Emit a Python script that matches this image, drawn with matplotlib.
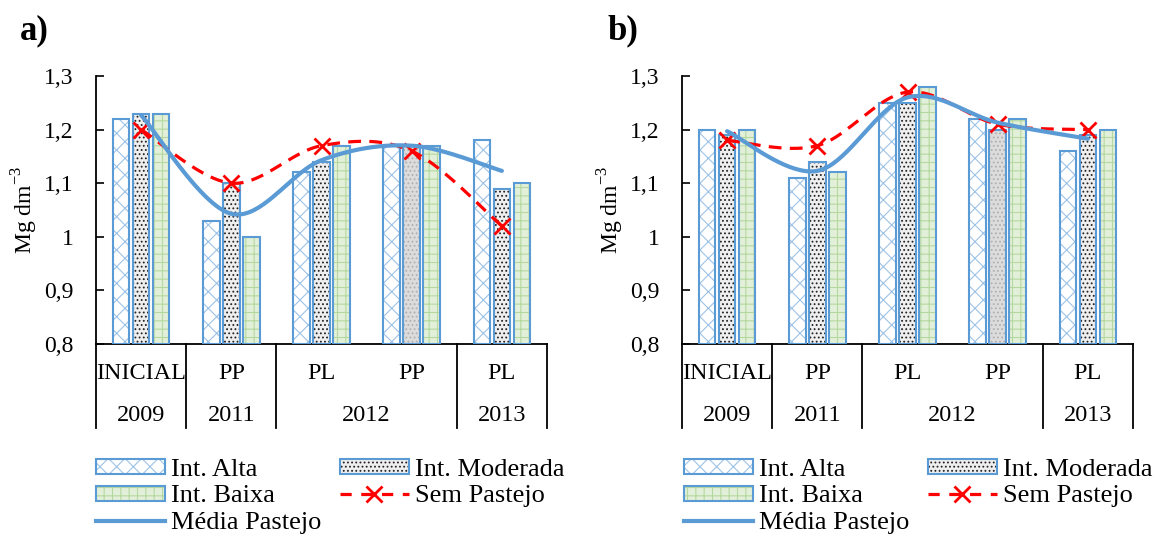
import numpy as np
import matplotlib
matplotlib.use("Agg")
import matplotlib.pyplot as plt
from matplotlib.patches import Patch
from matplotlib.lines import Line2D
from matplotlib.ticker import FuncFormatter, MultipleLocator

plt.rcParams['font.family'] = ['Liberation Serif', 'DejaVu Serif']
plt.rcParams['mathtext.fontset'] = 'custom'
plt.rcParams['mathtext.rm'] = 'Liberation Serif'
plt.rcParams['hatch.linewidth'] = 0.8

# categorias do eixo x (dois niveis)
manejo = ['INICIAL', 'PP', 'PL', 'PP', 'PL']
anos = ['2009', '2011', '2012', '2013']
ano_pos = [0, 1, 2.5, 4]
limites = [-0.5, 0.5, 1.5, 3.5, 4.5]

# painel a)
alta_a = [1.22, 1.03, 1.12, 1.17, 1.18]
moderada_a = [1.23, 1.10, 1.14, 1.17, 1.09]
baixa_a = [1.23, 1.00, 1.17, 1.17, 1.10]
sem_pastejo_a = [1.20, 1.10, 1.17, 1.16, 1.02]
media_a = [1.227, 1.043, 1.143, 1.170, 1.123]

# painel b)
alta_b = [1.20, 1.11, 1.25, 1.22, 1.16]
moderada_b = [1.19, 1.14, 1.25, 1.20, 1.19]
baixa_b = [1.20, 1.12, 1.28, 1.22, 1.20]
sem_pastejo_b = [1.18, 1.17, 1.27, 1.21, 1.20]
media_b = [1.197, 1.123, 1.260, 1.213, 1.183]

AZUL = '#5B9BD5'
FS_TICK = 17
FS_CAT = 17.5
FS_LEG = 19

# estilos das barras: (face, hatch, cor do hatch)
estilos = {
    'Int. Alta': ('white', 'xx', '#9DC3E6'),
    'Int. Moderada': ('#EFEFEF', '....', '#222222'),
    'Int. Baixa': ('#E2F0D9', '++', '#B5D8A0'),
}


def suavizar(x, y, n=40):
    """Linha suavizada tipo Excel (Bezier com tangentes de Catmull-Rom)."""
    p = np.column_stack([x, y]).astype(float)
    p = np.vstack([p[0], p, p[-1]])
    pts = []
    t = np.linspace(0, 1, n)[:, None]
    for i in range(1, len(p) - 2):
        p0, p1, p2, p3 = p[i - 1], p[i], p[i + 1], p[i + 2]
        b1 = p1 + (p2 - p0) / 6
        b2 = p2 - (p3 - p1) / 6
        seg = ((1 - t) ** 3) * p1 + 3 * ((1 - t) ** 2) * t * b1 \
            + 3 * (1 - t) * t ** 2 * b2 + t ** 3 * p2
        pts.append(seg if i == 1 else seg[1:])
    pts = np.vstack(pts)
    return pts[:, 0], pts[:, 1]


def painel(ax, alta, moderada, baixa, sem, media):
    x = np.arange(len(manejo))
    largura = 0.185
    desloc = [-0.222, 0, 0.222]
    for vals, nome, d in zip([alta, moderada, baixa], estilos, desloc):
        face, hatch, hcor = estilos[nome]
        bars = ax.bar(x + d, np.array(vals) - 0.8, largura, bottom=0.8,
                      color=face, hatch=hatch, edgecolor=hcor, linewidth=0, zorder=2)
        if nome == 'Int. Moderada':
            # barra com padrao mais claro no Excel
            bars[3].set_facecolor('#DCDCDC')
            bars[3].set_edgecolor('#B0B0B0')
        ax.bar(x + d, np.array(vals) - 0.8, largura, bottom=0.8,
               facecolor='none', edgecolor=AZUL, linewidth=1.5, zorder=3)

    sx, sy = suavizar(x, sem)
    ax.plot(sx, sy, color='red', lw=2.3, dashes=(4, 2.6), zorder=4)
    ax.plot(x, sem, ls='none', marker='x', ms=12, mew=2, color='red', zorder=5)
    mx, my = suavizar(x, media)
    ax.plot(mx, my, color=AZUL, lw=3, solid_capstyle='round', zorder=6)

    ax.set_xlim(-0.5, 4.5)
    ax.set_ylim(0.8, 1.3)
    ax.yaxis.set_major_locator(MultipleLocator(0.1))
    ax.yaxis.set_major_formatter(FuncFormatter(
        lambda v, p: f"{v:.1f}".rstrip('0').rstrip('.').replace('.', ',')))
    ax.tick_params(axis='y', direction='in', length=6, width=1.2, pad=16, labelsize=FS_TICK)
    ax.tick_params(axis='x', length=0, labelbottom=False)
    for s in ['top', 'right']:
        ax.spines[s].set_visible(False)
    for s in ['left', 'bottom']:
        ax.spines[s].set_linewidth(1.3)

    tr = ax.get_xaxis_transform()
    for b in limites:
        ax.plot([b, b], [0, -0.315], color='black', lw=1.3, transform=tr, clip_on=False)
    for xi, lab in enumerate(manejo):
        ax.text(xi, -0.11, lab, transform=tr, ha='center', va='center', fontsize=FS_CAT)
    for xp, lab in zip(ano_pos, anos):
        ax.text(xp, -0.268, lab, transform=tr, ha='center', va='center', fontsize=FS_CAT)

    ax.set_ylabel('Mg dm$^{\\mathregular{-3}}$', fontsize=17, va='center')
    ax.yaxis.set_label_coords(-71 / 451, 0.5)


def legenda(fig, x0):
    hs = []
    for nome in ['Int. Alta', 'Int. Baixa']:
        face, hatch, hcor = estilos[nome]
        hs.append((Patch(facecolor=face, hatch=hatch, edgecolor=hcor, lw=0),
                   Patch(facecolor='none', edgecolor=AZUL, lw=1.5)))
    hs.append(Line2D([], [], color=AZUL, lw=3))
    face, hatch, hcor = estilos['Int. Moderada']
    hs.append((Patch(facecolor=face, hatch=hatch, edgecolor=hcor, lw=0),
               Patch(facecolor='none', edgecolor=AZUL, lw=1.5)))
    hs.append(Line2D([], [], color='red', lw=2.3, dashes=(3.5, 3), marker='x', ms=12, mew=2))
    labels = ['Int. Alta', 'Int. Baixa', 'Média Pastejo', 'Int. Moderada', 'Sem Pastejo']
    fig.legend(hs, labels, loc='upper left', bbox_to_anchor=(x0 / 1155, 1 - 459 / 534),
               ncol=2, frameon=False, fontsize=FS_LEG, borderpad=0, borderaxespad=0,
               handlelength=2.6, handleheight=0.49, handletextpad=0.23,
               columnspacing=0.72, labelspacing=0.17)


fig = plt.figure(figsize=(11.55, 5.34), dpi=100)
ax_a = fig.add_axes([96 / 1155, 190 / 534, 451 / 1155, 268 / 534])
ax_b = fig.add_axes([682 / 1155, 190 / 534, 451 / 1155, 268 / 534])

painel(ax_a, alta_a, moderada_a, baixa_a, sem_pastejo_a, media_a)
painel(ax_b, alta_b, moderada_b, baixa_b, sem_pastejo_b, media_b)

fig.text(20 / 1155, 1 - 31 / 534, 'a)', fontsize=25, fontweight='bold', va='center')
fig.text(607 / 1155, 1 - 31 / 534, 'b)', fontsize=25, fontweight='bold', va='center')

legenda(fig, 96)
legenda(fig, 684)

fig.savefig('out.png', dpi=100)
